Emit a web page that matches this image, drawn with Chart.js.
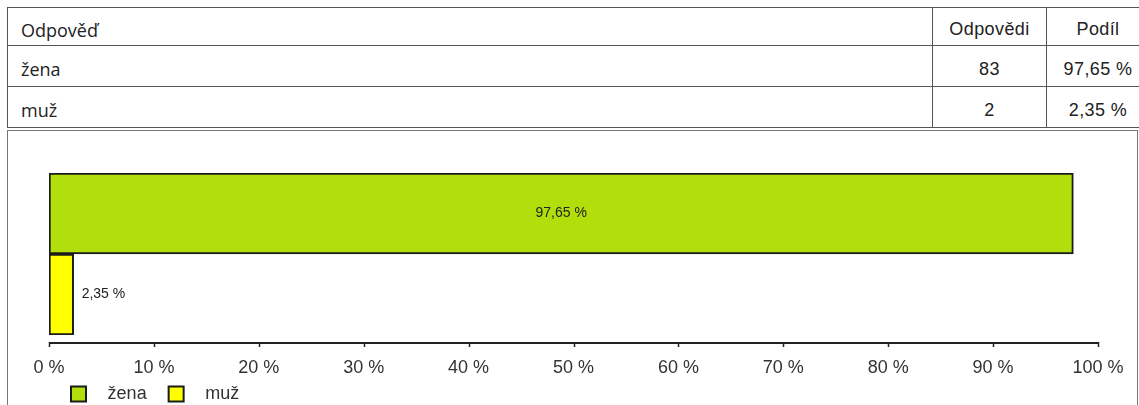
<!DOCTYPE html>
<html>
<head>
<meta charset="utf-8">
<script src="https://cdn.jsdelivr.net/npm/chart.js@4/dist/chart.umd.min.js"></script>
<style>
  html, body { margin: 0; padding: 0; background: #fff; width: 1139px; height: 405px; overflow: hidden; }
  #answers {
    position: absolute; left: 7px; top: 7px; width: 1142px;
    border-collapse: collapse; table-layout: fixed;
    font-family: "Liberation Sans", Arial, sans-serif; font-size: 18px; color: #222;
  }
  #answers td { border: 1px solid #555; padding: 6px 0 0 0; vertical-align: middle; }
  #answers td.label { font-family: "Open Sans", "Noto Sans", sans-serif; font-size: 18px; padding-left: 13px; text-align: left; }
  #answers td.num { text-align: center; letter-spacing: 0.4px; }
  #answers tr.head td { height: 31px; }
  #answers tr.row td { height: 34px; }
  #box {
    position: absolute; left: 7px; top: 130px; width: 1129px; height: 300px;
    border: 1px solid #777;
  }
  #chartWrap { position: absolute; left: 0; top: 0; width: 1128px; height: 300px; }
</style>
</head>
<body>
<table id="answers">
  <colgroup><col style="width:925px"><col style="width:114px"><col style="width:103px"></colgroup>
  <tbody id="answersBody"></tbody>
</table>
<div id="box"><div id="chartWrap"><canvas id="chart"></canvas></div></div>
<script>
// Survey answers: gender of respondents
const headers = ['Odpověď', 'Odpovědi', 'Podíl'];
const categories = ['žena', 'muž'];
const counts = [83, 2];
const shares = [97.65, 2.35];
const colors = ['#b2df0b', '#ffff00'];
const tickValues = [0, 10, 20, 30, 40, 50, 60, 70, 80, 90, 100];

const pct = v => v.toFixed(2).replace('.', ',') + ' %';

// Answers table
const body = document.getElementById('answersBody');
const headRow = document.createElement('tr');
headRow.className = 'head';
headers.forEach((h, i) => {
  const td = document.createElement('td');
  td.className = i === 0 ? 'label' : 'num';
  td.textContent = h;
  headRow.appendChild(td);
});
body.appendChild(headRow);
categories.forEach((c, i) => {
  const tr = document.createElement('tr');
  tr.className = 'row';
  [[c, 'label'], [String(counts[i]), 'num'], [pct(shares[i]), 'num']].forEach(([t, cls]) => {
    const td = document.createElement('td');
    td.className = cls;
    td.textContent = t;
    tr.appendChild(td);
  });
  body.appendChild(tr);
});

const FONT = '"Liberation Sans", Arial, sans-serif';
const AXIS_GAP = 8;        // value axis line sits this far below the bars
const AXIS_HEIGHT = 46;    // room for the tick labels
const LEGEND_LIFT = 18;    // legend row pulled up under the tick labels

// One dataset per answer so each gets its own legend entry
const datasets = categories.map((c, i) => ({
  label: c,
  data: categories.map((_, j) => (j === i ? shares[i] : null)),
  backgroundColor: colors[i],
  borderColor: '#1b1b1b',
  borderWidth: 2,
  borderSkipped: false
}));

// Percentage text on each bar
const valueLabels = {
  id: 'valueLabels',
  afterDatasetsDraw(chart) {
    const ctx = chart.ctx;
    ctx.save();
    ctx.font = '14px ' + FONT;
    ctx.fillStyle = '#222';
    ctx.textBaseline = 'middle';
    chart.data.datasets.forEach((ds, di) => {
      chart.getDatasetMeta(di).data.forEach((bar, i) => {
        const v = ds.data[i];
        if (v == null) return;
        if (v > 50) {
          ctx.textAlign = 'center';
          ctx.fillText(pct(v), (bar.base + bar.x) / 2, bar.y);
        } else {
          ctx.textAlign = 'left';
          ctx.fillText(pct(v), bar.x + 8, bar.y);
        }
      });
    });
    ctx.restore();
  }
};

// Value axis line a little below the bars, with tick marks
const axisLine = {
  id: 'axisLine',
  afterDraw(chart) {
    const x = chart.scales.x;
    const y = chart.chartArea.bottom + AXIS_GAP;
    const ctx = chart.ctx;
    ctx.save();
    ctx.strokeStyle = '#222';
    ctx.lineWidth = 2;
    ctx.beginPath();
    ctx.moveTo(x.getPixelForValue(tickValues[0]), y);
    ctx.lineTo(x.getPixelForValue(tickValues[tickValues.length - 1]), y);
    ctx.stroke();
    ctx.lineWidth = 1.5;
    tickValues.forEach(t => {
      const px = Math.round(x.getPixelForValue(t)) + 0.5;
      ctx.beginPath();
      ctx.moveTo(px, y - 1);
      ctx.lineTo(px, y + 4);
      ctx.stroke();
    });
    ctx.restore();
  }
};

// Legend row tucked directly beneath the tick labels
const legendLift = {
  id: 'legendLift',
  afterLayout(chart) {
    chart.legend.top -= LEGEND_LIFT;
    chart.legend.bottom -= LEGEND_LIFT;
  }
};

new Chart(document.getElementById('chart'), {
  type: 'bar',
  data: { labels: categories, datasets },
  plugins: [valueLabels, axisLine, legendLift],
  options: {
    indexAxis: 'y',
    responsive: true,
    maintainAspectRatio: false,
    animation: false,
    grouped: false,
    categoryPercentage: 1,
    barPercentage: 1,
    layout: { padding: { top: 42, left: 41, right: 38, bottom: 0 } },
    scales: {
      y: { display: false },
      x: {
        min: 0, max: 100,
        grid: { display: false, drawTicks: false },
        border: { display: false },
        ticks: {
          stepSize: 10,
          padding: 22,
          color: '#333',
          font: { family: FONT, size: 18 },
          callback: v => v + ' %'
        },
        afterFit(scale) {
          scale.height = AXIS_HEIGHT;
          scale.paddingLeft = 0;
          scale.paddingRight = 0;
        }
      }
    },
    plugins: {
      tooltip: { enabled: false },
      legend: {
        position: 'bottom',
        align: 'start',
        labels: {
          boxWidth: 15,
          boxHeight: 15,
          padding: 22,
          color: '#333',
          font: { family: FONT, size: 18 },
          generateLabels(chart) {
            return Chart.defaults.plugins.legend.labels.generateLabels(chart)
              .map(item => ({ ...item, text: '\u2002\u2009' + item.text }));
          }
        }
      }
    }
  }
});
</script>
</body>
</html>
